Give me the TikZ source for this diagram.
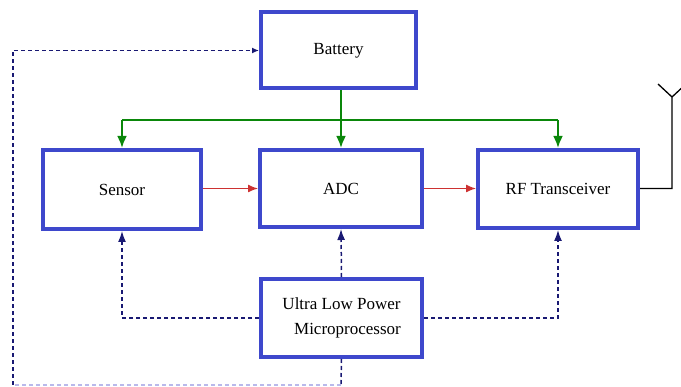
\documentclass[tikz,border=0pt]{standalone}
\usepackage{fontspec}
\setmainfont{Liberation Serif}
\usetikzlibrary{arrows.meta}
\definecolor{boxblue}{RGB}{62,72,204}
\definecolor{pgreen}{RGB}{10,135,10}
\definecolor{pred}{RGB}{205,50,50}
\definecolor{pnavy}{RGB}{25,25,115}
\definecolor{plight}{RGB}{185,185,235}
\tikzset{
  blk/.style={draw=boxblue, line width=4pt, fill=white, outer sep=2pt, inner sep=0pt,
    font=\fontsize{17}{25}\selectfont, align=center},
  pwr/.style={draw=pgreen, line width=2.3pt, -{Latex[length=12pt,width=10pt]}},
  pwrline/.style={draw=pgreen, line width=2.3pt},
  sig/.style={draw=pred, line width=1.3pt, -{Latex[length=10pt,width=8pt]}},
  ctl/.style={draw=pnavy, line width=1.5pt, dash pattern=on 4pt off 3pt, -{Latex[length=11pt,width=8pt]}},
  ctlsmall/.style={draw=pnavy, line width=1.5pt, dash pattern=on 4pt off 3pt, -{Latex[length=7pt,width=6pt]}},
  ctlline/.style={draw=pnavy, line width=1.5pt, dash pattern=on 4pt off 3pt},
  ant/.style={draw=black, line width=1.3pt},
}
\begin{document}
\begin{tikzpicture}[x=1pt,y=1pt]
\useasboundingbox (0,0) rectangle (681,-387);
\node[blk, minimum width=155pt, minimum height=76pt] (battery) at (338.5,-50.5) {Battery};
\node[blk, minimum width=158pt, minimum height=79pt] (sensor) at (122,-189.5) {Sensor};
\node[blk, minimum width=162pt, minimum height=77pt] (adc) at (341,-188.5) {ADC};
\node[blk, minimum width=160pt, minimum height=78pt] (rf) at (558,-189) {RF Transceiver};
\node[blk, minimum width=161pt, minimum height=78pt] (micro) at (341.5,-318) {Ultra Low Power\\[0pt]\hspace*{12pt}Microprocessor};
% power bus
\coordinate (bus) at (341,-120);
\draw[pwrline] (battery.south -| adc.north) -- (bus);
\draw[pwrline] (sensor.north |- bus) -- (rf.north |- bus);
\draw[pwr] (bus) -- (adc.north);
\draw[pwr] (sensor.north |- bus) -- (sensor.north);
\draw[pwr] (rf.north |- bus) -- (rf.north);
% signal
\draw[sig] (adc.west -| sensor.east) -- (adc.west);
\draw[sig] (adc.east) -- (adc.east -| rf.west);
% antenna
\coordinate (antbase) at (672,-188.5);
\coordinate (antv) at (672,-97);
\coordinate (antl) at (658,-84);
\coordinate (antr) at (686,-84);
\draw[ant] (adc.east -| rf.east) -- (antbase) -- (antv) -- (antl);
\draw[ant] (antv) -- (antr);
% control
\draw[ctl] (micro.west) -| (sensor.south);
\draw[ctl] (micro.east) -| (rf.south);
\draw[ctl] (micro.north) -- (adc.south);
\coordinate (c1) at (341,-385);
\coordinate (c2) at (13,-385);
\draw[ctlline] (micro.south) -- (c1);
\draw[ctlline, draw=plight] (c1) -- (c2);
\draw[ctlsmall] (c2) |- (battery.west);
\end{tikzpicture}
\end{document}
